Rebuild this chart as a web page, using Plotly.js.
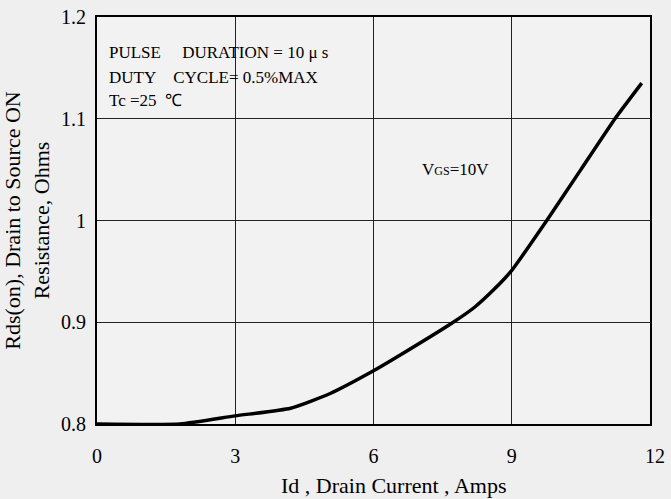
<!DOCTYPE html>
<html>
<head>
<meta charset="utf-8">
<script src="https://cdn.plot.ly/plotly-3.0.1.min.js"></script>
<style>html,body{margin:0;padding:0;background:#efefef;}#chart{width:671px;height:499px;}</style>
</head>
<body>
<div id="chart"></div>
<script>
var idAmps = [0, 1.8, 3, 4.2, 5.06, 6, 6.58, 7.73, 8.2, 8.6, 9, 9.76, 10.5, 11.24, 11.82];
var rdsOhms = [0.8, 0.8, 0.808, 0.8155, 0.83, 0.8523, 0.8678, 0.9, 0.915, 0.9316, 0.951, 1.0, 1.05, 1.1, 1.135];
var xTicks = [0, 3, 6, 9, 12];
var xTickText = ['0', '3', '6', '9', '&nbsp;&nbsp;12'];
var yTicks = [0.8, 0.9, 1, 1.1, 1.2];
var yTickText = ['0.8', '0.9', '1', '1.1', '1.2'];

var font = 'Liberation Serif, Times New Roman, serif';
var trace = {
  x: idAmps, y: rdsOhms, type: 'scatter', mode: 'lines',
  line: {color: '#000', width: 3.5, shape: 'spline', smoothing: 0.5},
  hoverinfo: 'skip', showlegend: false
};
var layout = {
  width: 671, height: 499,
  margin: {l: 97, r: 21, t: 17, b: 75},
  paper_bgcolor: '#efefef', plot_bgcolor: '#f2f2f2',
  font: {family: font, color: '#000', size: 20},
  xaxis: {
    range: [0, 12], tickvals: xTicks, ticktext: xTickText, ticks: '', ticklabelstandoff: 13,
    showgrid: true, gridcolor: '#222', gridwidth: 1, zeroline: false,
    showline: true, linecolor: '#000', linewidth: 2, mirror: true,
    tickfont: {family: font, size: 20}
  },
  yaxis: {
    range: [0.8, 1.2], tickvals: yTicks, ticktext: yTickText, ticks: '', ticklabelstandoff: 5,
    showgrid: true, gridcolor: '#222', gridwidth: 1, zeroline: false,
    showline: true, linecolor: '#000', linewidth: 2, mirror: true,
    tickfont: {family: font, size: 20},
    title: {text: 'Rds(on), Drain to Source ON<br>Resistance, Ohms', font: {family: font, size: 22}, standoff: 6}
  },
  annotations: [
    {xref: 'paper', yref: 'paper', x: 0.537, y: -0.152, xanchor: 'center', yanchor: 'middle', showarrow: false,
     text: 'Id , Drain Current , Amps', font: {family: font, size: 22}},
    {xref: 'paper', yref: 'paper', x: 0.018, y: 0.913, xanchor: 'left', yanchor: 'middle', showarrow: false,
     text: 'PULSE&nbsp;&nbsp;&nbsp;&nbsp;&nbsp;DURATION = 10 μ s', font: {family: font, size: 17}},
    {xref: 'paper', yref: 'paper', x: 0.018, y: 0.851, xanchor: 'left', yanchor: 'middle', showarrow: false,
     text: 'DUTY&nbsp;&nbsp;&nbsp;&nbsp;CYCLE= 0.5%MAX', font: {family: font, size: 17}},
    {xref: 'paper', yref: 'paper', x: 0.018, y: 0.794, xanchor: 'left', yanchor: 'middle', showarrow: false,
     text: 'Tc =25&nbsp;&nbsp;℃', font: {family: font, size: 17}},
    {xref: 'x', yref: 'y', x: 7.0, y: 1.05, xanchor: 'left', yanchor: 'middle', showarrow: false,
     text: 'V<span style="font-size:12px">GS</span>=10V', font: {family: font, size: 17}}
  ]
};
Plotly.newPlot('chart', [trace], layout, {displayModeBar: false, staticPlot: true});
</script>
</body>
</html>
